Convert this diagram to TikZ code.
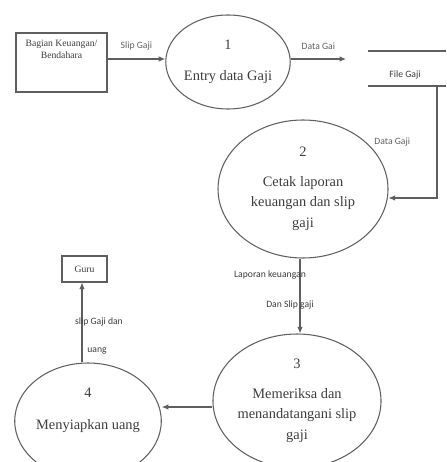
\documentclass[tikz,border=0pt]{standalone}
\usepackage{fontspec}
\setmainfont{Liberation Serif}
\newfontfamily\lblfont{Carlito}
\usetikzlibrary{arrows.meta,positioning,shapes.geometric,calc}
\definecolor{lineg}{RGB}{95,95,95}
\definecolor{textg}{RGB}{60,60,60}

\begin{document}
\begin{tikzpicture}[x=0.02cm, y=-0.02cm, font=\fontsize{8.2}{11.8}\selectfont\color{textg},
 proc/.style={draw=lineg, ellipse, line width=.6pt, inner sep=0pt, align=center},
 ent/.style={draw=lineg, line width=.6pt, align=center, inner sep=2pt, font=\fontsize{5.5}{7}\selectfont\color{textg}},
 arr/.style={-{Latex[length=1.3mm,width=1.1mm]}, line width=.6pt, color=lineg},
 lbl/.style={font=\lblfont\fontsize{5.5}{6.5}\selectfont\color{textg}, inner sep=1pt}]
\useasboundingbox (0,0) rectangle (446,462);
\begin{scope}
\clip (0,0) rectangle (446,462);
% external entities
\node[ent, minimum width=91*0.02cm, minimum height=59*0.02cm] (bagian) at (61.5,62.5) {Bagian Keuangan/\\Bendahara\\[8pt]};
\node[ent, minimum width=45*0.02cm, minimum height=26*0.02cm] (guru) at (84.5,269) {Guru};
% processes
\node[proc, minimum width=122*0.02cm, minimum height=94*0.02cm] (p1) at (228,62) {1\\[6pt]Entry data Gaji};
\node[proc, minimum width=170*0.02cm, minimum height=138*0.02cm] (p2) at (303,189) {2\\[5pt]Cetak laporan\\keuangan dan slip\\gaji};
\node[proc, minimum width=168*0.02cm, minimum height=134*0.02cm] (p3) at (297,401) {3\\[5pt]Memeriksa dan\\menandatangani slip\\gaji};
\node[proc, minimum width=144*0.02cm, minimum height=116*0.02cm] (p4) at (88,421) {4\\[6pt]Menyiapkan uang\\[2pt]\mbox{}};
% data store
\coordinate (fg1) at (368,51);
\coordinate (fg2) at (368,86);
\draw[lineg, line width=.6pt] (fg1) -- (446,51);
\draw[lineg, line width=.6pt] (fg2) -- (446,86);
\node[lbl] (filegaji) at (405,75) {File Gaji};
\coordinate (dg) at (346,59);
\coordinate (fgout) at (437,86);
% flows
\draw[arr] (bagian.east |- 0,59) -- node[lbl, above=4pt] (slip) {Slip Gaji} (p1.west |- 0,59);
\draw[arr] (p1.east |- 0,59) -- node[lbl, above=4pt] (datagai) {Data Gai} (dg);
\draw[arr] (fgout) -- node[lbl, left=14pt] (datagaji) {Data Gaji} (437,198) -- (p2.east |- 0,198);
\draw[arr] (p2.south -| 300,0) -- (p3.north -| 300,0);
\node[lbl] (lapkeu) at (270,275) {Laporan keuangan};
\node[lbl] (danslip) at (290,305) {Dan Slip gaji};
\draw[arr] (p3.west |- 0,407) -- (p4.east |- 0,407);
\draw[arr] (p4.north -| 82,0) -- (guru.south -| 82,0);
\node[lbl] (slipdan) at (99,322) {slip Gaji dan};
\node[lbl] (uang) at (97,351) {uang};
\end{scope}
\end{tikzpicture}
\end{document}
